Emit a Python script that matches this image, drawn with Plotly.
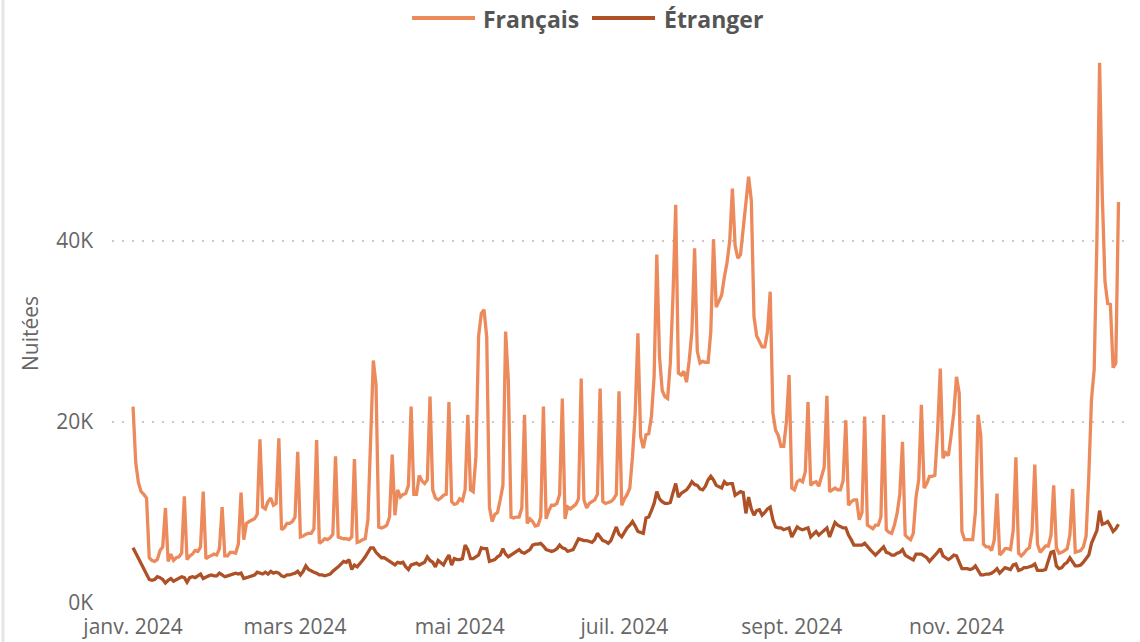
import pandas as pd
import plotly.graph_objects as go

# Daily nights (in thousands), 2024-01-01 .. 2024-12-31
francais = [
    21.7, 15.5, 13.3, 12.3, 12.0, 11.6, 5.0,
    4.7, 4.6, 4.8, 5.8, 6.2, 10.5, 4.6,
    5.4, 4.7, 5.0, 5.1, 5.5, 11.8, 4.8,
    5.2, 5.4, 5.8, 5.7, 6.2, 12.3, 4.9,
    5.1, 5.3, 5.4, 5.3, 6.0, 10.6, 5.2,
    5.2, 5.6, 5.6, 5.5, 6.5, 12.2, 7.0,
    8.8, 9.0, 9.2, 9.3, 9.8, 18.1, 10.6,
    10.4, 11.2, 11.6, 10.8, 11.0, 18.2, 8.1,
    8.3, 8.8, 8.8, 9.0, 9.5, 16.7, 7.3,
    7.4, 7.6, 7.7, 7.7, 8.2, 18.0, 6.6,
    6.8, 7.1, 7.0, 7.2, 7.6, 16.2, 7.3,
    7.2, 7.1, 7.1, 7.0, 7.3, 15.9, 6.7,
    6.8, 7.0, 7.1, 9.2, 17.5, 26.8, 24.1,
    8.4, 8.3, 8.4, 8.6, 9.5, 16.4, 9.7,
    12.5, 11.7, 12.0, 12.1, 13.0, 21.7, 12.0,
    12.0, 14.1, 13.5, 13.2, 13.6, 22.8, 12.5,
    11.6, 11.4, 11.6, 11.9, 12.0, 22.2, 11.2,
    10.9, 11.0, 11.5, 11.3, 12.5, 20.8, 12.5,
    12.3, 16.2, 29.5, 32.0, 32.4, 29.4, 10.6,
    9.0, 9.8, 10.0, 11.4, 13.0, 30.0, 24.6,
    9.5, 9.4, 9.5, 9.5, 10.5, 20.8, 8.8,
    9.3, 9.0, 8.5, 8.6, 9.5, 21.7, 9.3,
    10.2, 10.8, 10.8, 11.0, 12.0, 22.6, 9.3,
    10.6, 10.4, 10.6, 10.9, 11.5, 24.8, 11.4,
    10.5, 11.0, 11.2, 11.4, 12.0, 23.7, 11.2,
    11.0, 11.1, 11.2, 11.5, 12.0, 23.4, 10.8,
    11.5, 12.0, 12.7, 16.2, 21.0, 29.8, 18.4,
    17.1, 18.6, 18.7, 20.6, 25.0, 38.5, 27.2,
    23.5, 22.8, 22.6, 26.5, 34.0, 44.0, 25.4,
    25.2, 25.6, 24.4, 26.8, 30.0, 39.2, 27.8,
    26.5, 26.7, 26.6, 26.6, 30.0, 40.2, 32.7,
    33.3, 34.0, 36.0, 37.6, 40.0, 45.8, 39.5,
    38.1, 38.5, 41.6, 44.0, 47.1, 44.5, 31.6,
    29.5, 28.8, 28.3, 28.3, 30.0, 34.4, 21.0,
    19.1, 18.5, 17.3, 17.3, 20.0, 25.2, 12.7,
    12.5, 13.4, 13.6, 13.4, 14.5, 22.2, 13.0,
    13.3, 13.4, 12.9, 13.9, 15.0, 22.9, 12.3,
    12.5, 12.7, 12.5, 12.5, 13.5, 20.2, 10.8,
    11.2, 11.4, 11.4, 9.2, 10.0, 20.6, 8.6,
    8.4, 8.2, 8.6, 8.6, 9.5, 20.8, 8.1,
    7.8, 7.7, 8.6, 9.9, 12.0, 17.8, 7.5,
    7.2, 7.0, 7.7, 11.7, 13.6, 21.9, 12.7,
    13.2, 14.0, 14.0, 14.1, 19.0, 25.9, 16.0,
    16.6, 16.3, 18.5, 21.0, 25.0, 23.2, 7.9,
    7.0, 7.0, 7.0, 7.0, 10.0, 20.8, 18.5,
    6.5, 6.2, 6.2, 5.8, 7.0, 12.1, 5.3,
    5.6, 6.0, 6.0, 5.9, 8.0, 16.1, 5.5,
    5.2, 5.5, 5.9, 6.1, 8.0, 15.3, 6.5,
    5.6, 5.9, 6.3, 6.3, 7.5, 13.0, 6.1,
    5.5, 5.6, 5.8, 6.0, 7.5, 12.6, 5.6,
    5.7, 5.8, 6.2, 7.4, 14.0, 22.5, 25.8,
    40.0, 59.7, 45.0, 35.5, 33.1, 33.0, 26.0,
    26.5, 44.3,
]

etranger = [
    6.1, 5.5, 4.9, 4.3, 3.8, 3.3, 2.6,
    2.5, 2.6, 2.9, 2.8, 2.6, 2.2, 2.5,
    2.7, 2.4, 2.6, 2.8, 2.9, 2.8, 2.3,
    2.8, 2.9, 2.8, 3.0, 3.2, 2.7, 2.9,
    3.0, 3.1, 3.0, 3.0, 3.3, 3.1, 2.9,
    3.0, 3.1, 3.2, 3.3, 3.2, 3.3, 2.7,
    2.8, 2.95, 3.0, 3.1, 3.4, 3.3, 3.2,
    3.4, 3.2, 3.5, 3.3, 3.4, 3.3, 3.0,
    2.9, 3.1, 3.1, 3.2, 3.3, 3.5, 3.1,
    3.5, 4.1, 3.7, 3.5, 3.4, 3.3, 3.1,
    3.1, 3.0, 3.1, 3.2, 3.5, 3.7, 4.0,
    4.3, 4.6, 4.5, 4.8, 3.7, 4.2, 4.0,
    4.3, 4.7, 5.1, 5.7, 6.1, 6.1, 5.6,
    5.3, 5.0, 5.0, 4.8, 4.5, 4.3, 4.2,
    4.5, 4.4, 4.5, 4.0, 3.7, 4.2, 4.3,
    4.4, 4.2, 4.4, 4.5, 5.1, 4.7, 4.5,
    4.0, 4.7, 4.4, 4.2, 4.8, 5.3, 4.2,
    4.9, 4.8, 4.8, 4.9, 6.4, 5.9, 4.9,
    4.9, 5.1, 5.3, 6.1, 6.0, 6.0, 4.6,
    4.7, 4.8, 5.1, 5.3, 6.0, 5.4, 5.1,
    5.3, 5.5, 5.7, 5.9, 5.6, 5.5, 5.7,
    5.9, 6.4, 6.5, 6.5, 6.6, 6.3, 5.9,
    5.8, 5.7, 5.8, 6.0, 6.4, 6.1, 6.0,
    5.7, 5.8, 5.9, 6.5, 7.1, 7.0, 6.9,
    6.9, 6.8, 6.7, 7.0, 7.7, 7.3, 6.9,
    6.8, 6.6, 6.9, 7.7, 8.4, 7.6, 7.3,
    7.8, 8.3, 8.6, 9.0, 8.5, 7.9, 7.8,
    7.7, 9.4, 9.5, 10.2, 11.0, 12.3, 11.5,
    11.2, 11.0, 11.0, 11.1, 12.2, 13.2, 11.7,
    12.1, 12.3, 12.5, 12.9, 13.4, 13.1, 13.0,
    12.6, 12.5, 12.9, 13.6, 14.0, 13.6, 13.0,
    12.8, 12.7, 13.4, 13.1, 13.2, 13.2, 11.9,
    12.1, 12.3, 12.2, 9.9, 11.7, 10.4, 9.7,
    10.2, 10.3, 9.7, 10.0, 10.4, 10.6, 9.2,
    8.4, 8.3, 8.3, 8.1, 8.2, 8.3, 7.3,
    7.8, 8.4, 8.2, 8.1, 8.2, 8.3, 7.3,
    7.6, 7.9, 7.5, 7.8, 8.0, 8.3, 7.3,
    8.0, 8.9, 8.6, 8.4, 8.3, 8.3, 7.5,
    7.0, 6.4, 6.4, 6.4, 6.4, 6.6, 6.2,
    5.9, 5.6, 5.3, 5.6, 5.9, 6.2, 5.6,
    5.5, 5.3, 5.3, 5.5, 5.6, 5.9, 5.3,
    5.1, 4.9, 4.75, 5.4, 5.4, 5.4, 5.2,
    5.0, 4.6, 4.9, 5.3, 5.6, 6.0, 5.2,
    5.0, 4.8, 5.0, 5.3, 5.2, 4.5, 3.8,
    3.8, 3.8, 3.7, 3.8, 4.1, 3.6, 3.1,
    3.1, 3.2, 3.2, 3.3, 3.5, 3.8, 3.3,
    3.6, 3.9, 3.8, 3.7, 4.2, 4.3, 3.6,
    3.7, 3.9, 3.9, 4.0, 4.1, 4.3, 3.6,
    3.6, 3.6, 3.7, 4.8, 5.6, 5.7, 4.1,
    3.8, 3.9, 4.3, 4.5, 5.0, 4.6, 4.1,
    4.1, 4.2, 4.5, 4.9, 5.3, 6.6, 7.3,
    8.0, 10.2, 8.7, 8.8, 9.0, 8.5, 7.9,
    8.2, 8.7,
]

dates = pd.date_range("2024-01-01", periods=len(francais), freq="D")

x_tick_dates = ["2024-01-01", "2024-03-01", "2024-05-01", "2024-07-01", "2024-09-01", "2024-11-01"]
x_tick_labels = ["janv. 2024", "mars 2024", "mai 2024", "juil. 2024", "sept. 2024", "nov. 2024"]
y_tick_vals = [0, 20000, 40000]
y_tick_labels = ["0K", "20K", "40K"]

series_names = ["Français", "Étranger"]
series_colors = ["#EC8A5C", "#AE5126"]

W, H = 1140, 642
PLOT_L, PLOT_R, PLOT_T, PLOT_B = 112, 1124, 60, 603   # window pixels
L, T, R, B = PLOT_L, PLOT_T, W - PLOT_R, H - PLOT_B
pw, ph = PLOT_R - PLOT_L, PLOT_B - PLOT_T


def px_x(px):
    return (px - PLOT_L) / pw


def px_y(py):
    return (PLOT_B - py) / ph


fig = go.Figure()
for name, vals, col in zip(series_names, [francais, etranger], series_colors):
    fig.add_trace(go.Scatter(
        x=dates, y=[v * 1000 for v in vals], mode="lines", name=name,
        line=dict(color=col, width=3.3), showlegend=False,
    ))

font_fam = "Open Sans, Noto Sans, DejaVu Sans, sans-serif"

# custom legend at top
legend_items = [(412, 475, 481), (592, 655, 662)]
for (x0, x1, tx), name, col in zip(legend_items, series_names, series_colors):
    fig.add_shape(type="line", xref="paper", yref="paper",
                  x0=px_x(x0), x1=px_x(x1), y0=px_y(18), y1=px_y(18),
                  line=dict(color=col, width=4))
    fig.add_annotation(text="<b>" + name + "</b>", xref="paper", yref="paper",
                       x=px_x(tx), y=px_y(19), xanchor="left", yanchor="middle",
                       showarrow=False, font=dict(family=font_fam, size=23, color="#555555"))

# y-axis title
fig.add_annotation(text="Nuitées", xref="paper", yref="paper",
                   x=px_x(30), y=px_y(334), xanchor="center", yanchor="middle",
                   textangle=-90, showarrow=False,
                   font=dict(family=font_fam, size=21, color="#666666"))

# left visual border
fig.add_shape(type="line", xref="paper", yref="paper",
              x0=px_x(3), x1=px_x(3), y0=px_y(0), y1=px_y(H),
              line=dict(color="#E6E6E6", width=3))

fig.update_layout(
    width=W, height=H,
    margin=dict(l=L, r=R, t=T, b=B, autoexpand=False),
    paper_bgcolor="white", plot_bgcolor="white",
    font=dict(family=font_fam, color="#666666"),
    xaxis=dict(
        type="date",
        range=["2023-12-24 05:00", "2025-01-02 01:00"],
        tickvals=x_tick_dates, ticktext=x_tick_labels,
        showgrid=False, zeroline=False, showline=False,
        tickfont=dict(size=21, color="#666666"),
        ticks="", ticklabelstandoff=9,
    ),
    yaxis=dict(
        range=[0, 60000],
        tickvals=y_tick_vals, ticktext=y_tick_labels,
        showgrid=True, gridcolor="#C8C8C8", gridwidth=1.5, griddash="2px,8px",
        zeroline=False, showline=False,
        tickfont=dict(size=21, color="#666666"),
        ticks="", ticklabelstandoff=18,
    ),
)

fig.write_html("out.html", config={"displayModeBar": False},
               post_script="document.body.style.margin='0';")
